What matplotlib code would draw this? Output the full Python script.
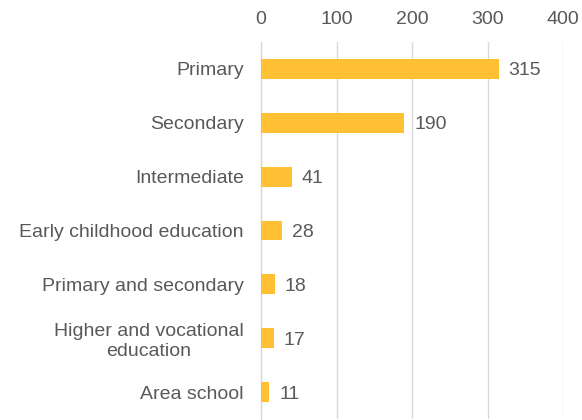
import matplotlib
matplotlib.use("Agg")
import matplotlib.pyplot as plt

categories = [
    "Primary",
    "Secondary",
    "Intermediate",
    "Early childhood education",
    "Primary and secondary",
    "Higher and vocational\neducation",
    "Area school",
]
values = [315, 190, 41, 28, 18, 17, 11]
x_ticks = [0, 100, 200, 300, 400]

bar_color = "#FFC133"
text_color = "#595959"
grid_color = "#D9D9D9"

plt.rcParams["font.family"] = ["Liberation Sans", "DejaVu Sans"]

fig = plt.figure(figsize=(5.82, 4.2), dpi=100)
ax = fig.add_axes([261 / 582, 1 / 420, (563 - 261) / 582, 377 / 420])

positions = list(range(len(categories)))
ax.barh(positions, values, height=0.37, color=bar_color, zorder=3)

ax.set_ylim(len(categories) - 0.5, -0.5)
ax.set_xlim(0, 400)
ax.set_xticks(x_ticks)
ax.set_yticks(positions)
ax.set_yticklabels(categories, fontsize=14, color=text_color, linespacing=1.2)
ax.tick_params(axis="y", length=0, pad=12.5)
ax.xaxis.tick_top()
ax.tick_params(axis="x", length=0, labelsize=14, labelcolor=text_color, pad=10)
for lbl in ax.get_yticklabels():
    lbl.set_horizontalalignment("right")
    lbl.set_multialignment("center")

ax.grid(axis="x", color=grid_color, linewidth=1, zorder=0)
for side in ["top", "right", "bottom"]:
    ax.spines[side].set_visible(False)
ax.spines["left"].set_color(grid_color)
ax.spines["left"].set_linewidth(1)

for pos, val in zip(positions, values):
    ax.text(val + 13, pos, str(val), va="center_baseline", ha="left",
            fontsize=14, color=text_color)

fig.savefig("out.png", dpi=100)
